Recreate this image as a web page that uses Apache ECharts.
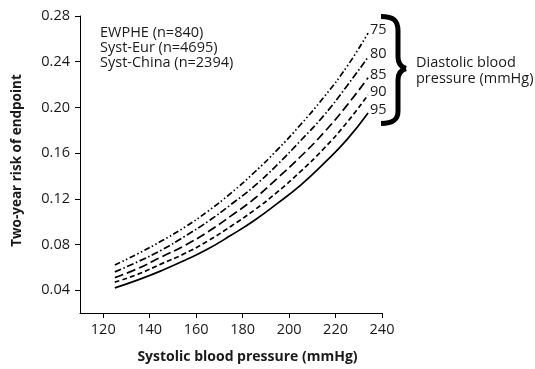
<!DOCTYPE html>
<html>
<head>
<meta charset="utf-8">
<script src="https://cdn.jsdelivr.net/npm/echarts@6/dist/echarts.min.js"></script>
<style>
html,body{margin:0;padding:0;background:#fff;}
#chart{width:535px;height:369px;}
</style>
</head>
<body>
<div id="chart"></div>
<script>
// Systolic blood pressure (mmHg)
var sbp = [125, 135, 145, 155, 165, 175, 185, 195, 205, 215, 225, 234];
// Two-year risk of endpoint, by diastolic blood pressure (mmHg)
var dbpLabels = ['75', '80', '85', '90', '95'];
var risk75 = [0.062, 0.072, 0.083, 0.095, 0.109, 0.125, 0.143, 0.163, 0.185, 0.209, 0.236, 0.265];
var risk80 = [0.056, 0.065, 0.075, 0.087, 0.100, 0.115, 0.131, 0.150, 0.171, 0.193, 0.219, 0.244];
var risk85 = [0.051, 0.059, 0.069, 0.079, 0.091, 0.105, 0.120, 0.138, 0.157, 0.178, 0.202, 0.226];
var risk90 = [0.047, 0.054, 0.063, 0.072, 0.083, 0.096, 0.110, 0.126, 0.144, 0.164, 0.187, 0.211];
var risk95 = [0.042, 0.049, 0.057, 0.066, 0.076, 0.088, 0.101, 0.116, 0.132, 0.151, 0.172, 0.195];
var xTicks = [120, 140, 160, 180, 200, 220, 240];
var yTicks = [0.04, 0.08, 0.12, 0.16, 0.20, 0.24, 0.28];
var studies = ['EWPHE (n=840)', 'Syst-Eur (n=4695)', 'Syst-China (n=2394)'];

var FONT = '"Open Sans", "Noto Sans", sans-serif';
var TXT = '#1a1a1a';
var dashes = [[6, 2.5, 1.5, 2.5, 1.5, 2.5], [7, 2.5, 1.5, 2.5], [9, 4], [5, 3], 'solid'];
var allRisk = [risk75, risk80, risk85, risk90, risk95];

var series = dbpLabels.map(function (lab, i) {
  return {
    name: lab,
    type: 'line',
    data: sbp.map(function (x, j) { return [x, allRisk[i][j]]; }),
    smooth: true,
    symbol: 'none',
    lineStyle: { color: '#000', width: 1.7, type: dashes[i] },
    endLabel: {
      show: true,
      formatter: '{a}',
      fontFamily: FONT,
      fontSize: 14.5,
      color: TXT,
      distance: 2,
      offset: [0, -3]
    }
  };
});

var braceStyle = { fill: null, stroke: '#000', lineWidth: 5 };
function bz(x1, y1, c1x, c1y, c2x, c2y, x2, y2) {
  return { type: 'bezierCurve', silent: true,
    shape: { x1: x1, y1: y1, cpx1: c1x, cpy1: c1y, cpx2: c2x, cpy2: c2y, x2: x2, y2: y2 },
    style: braceStyle };
}
function ln(x1, y1, x2, y2) {
  return { type: 'line', silent: true, shape: { x1: x1, y1: y1, x2: x2, y2: y2 }, style: braceStyle };
}

var chart = echarts.init(document.getElementById('chart'));
chart.setOption({
  animation: false,
  backgroundColor: '#fff',
  textStyle: { fontFamily: FONT },
  grid: { left: 80, right: 153, top: 16, bottom: 55 },
  title: [
    {
      text: studies.join('\n'),
      left: 100, top: 25, padding: 0,
      textStyle: { fontFamily: FONT, fontSize: 14.5, fontWeight: 'normal', color: TXT, lineHeight: 15 }
    },
    {
      text: 'Diastolic blood\npressure (mmHg)',
      left: 416, top: 55, padding: 0,
      textStyle: { fontFamily: FONT, fontSize: 14.5, fontWeight: 'normal', color: TXT, lineHeight: 16 }
    }
  ],
  xAxis: {
    type: 'value',
    min: 110, max: 240,
    name: 'Systolic blood pressure (mmHg)',
    nameLocation: 'middle',
    nameGap: 37,
    nameTextStyle: { fontFamily: FONT, fontSize: 14, fontWeight: 'bold', color: TXT, padding: [0, 0, 0, 33] },
    axisLine: { lineStyle: { color: '#000', width: 1 } },
    axisTick: { show: true, length: 5, lineStyle: { color: '#000' }, customValues: xTicks },
    axisLabel: { customValues: xTicks, fontFamily: FONT, fontSize: 14.5, color: TXT, margin: 9 },
    splitLine: { show: false }
  },
  yAxis: {
    type: 'value',
    min: 0.02, max: 0.28,
    name: 'Two-year risk of endpoint',
    nameLocation: 'middle',
    nameGap: 56,
    nameTextStyle: { fontFamily: FONT, fontSize: 13.5, fontWeight: 'bold', color: TXT, padding: [0, 0, 0, 8] },
    axisLine: { show: true, lineStyle: { color: '#000', width: 1 } },
    axisTick: { show: true, length: 5, lineStyle: { color: '#000' }, customValues: yTicks },
    axisLabel: {
      customValues: yTicks, fontFamily: FONT, fontSize: 14.5, color: TXT, margin: 10,
      formatter: function (v) { return v.toFixed(2); }
    },
    splitLine: { show: false }
  },
  graphic: [
    bz(381, 16.5, 393, 16.5, 398, 20, 398, 31),
    ln(398, 31, 398, 57),
    bz(398, 57, 398, 63, 401, 67, 406, 68.5),
    bz(406, 68.5, 401, 70, 398, 74, 398, 80),
    ln(398, 80, 398, 111),
    bz(398, 111, 398, 120, 393, 123.5, 381, 123.5)
  ],
  series: series
});
</script>
</body>
</html>
